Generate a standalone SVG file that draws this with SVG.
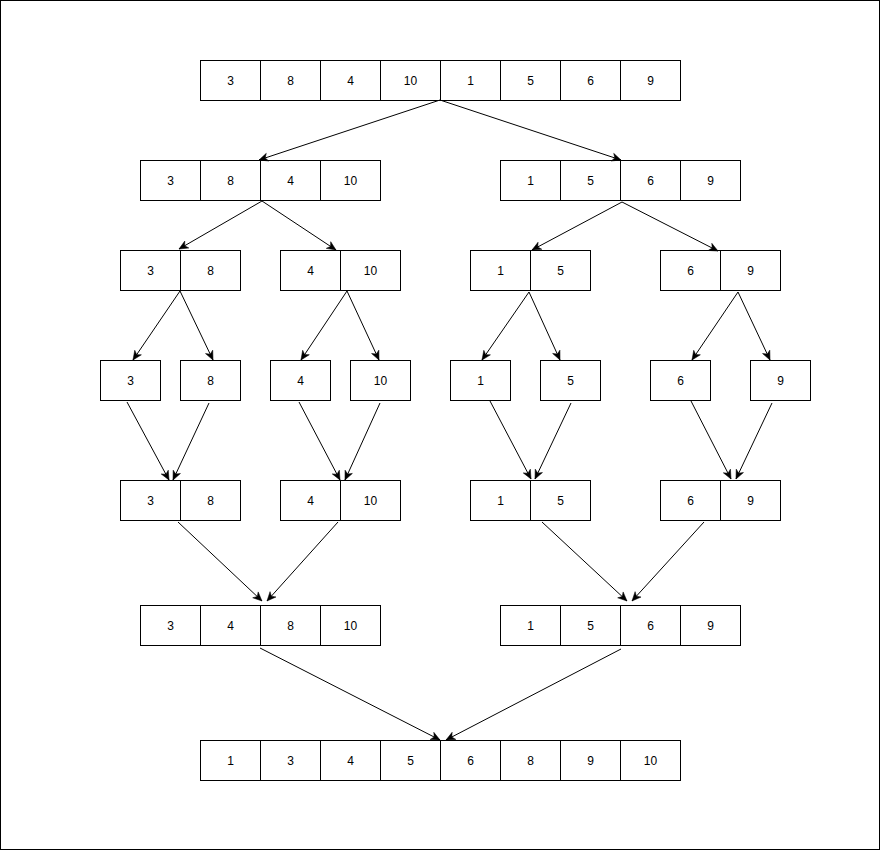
<svg xmlns="http://www.w3.org/2000/svg" width="881" height="851" viewBox="0 0 881 851">
<style>
.c{fill:#fff;stroke:#000;stroke-width:1}
.t{font-family:"Liberation Sans",Arial,sans-serif;font-size:12px;fill:#000;text-anchor:middle}
.e{fill:none;stroke:#000;stroke-width:1;marker-end:url(#ah)}
</style>
<defs>
<marker id="ah" markerUnits="userSpaceOnUse" markerWidth="12" markerHeight="12" viewBox="-10 -6 12 12" refX="0" refY="0" orient="auto">
<path d="M-9,-4 L0,0 L-9,4 L-6.5,0 Z" fill="#000" stroke="#000" stroke-width="0.5"/>
</marker>
</defs>
<rect x="0.5" y="0.5" width="879" height="849" fill="#fff" stroke="#000"/>

<g id="arr0">
<rect class="c" x="200.5" y="60.5" width="60" height="40"/><text class="t" x="230.5" y="84.5">3</text>
<rect class="c" x="260.5" y="60.5" width="60" height="40"/><text class="t" x="290.5" y="84.5">8</text>
<rect class="c" x="320.5" y="60.5" width="60" height="40"/><text class="t" x="350.5" y="84.5">4</text>
<rect class="c" x="380.5" y="60.5" width="60" height="40"/><text class="t" x="410.5" y="84.5">10</text>
<rect class="c" x="440.5" y="60.5" width="60" height="40"/><text class="t" x="470.5" y="84.5">1</text>
<rect class="c" x="500.5" y="60.5" width="60" height="40"/><text class="t" x="530.5" y="84.5">5</text>
<rect class="c" x="560.5" y="60.5" width="60" height="40"/><text class="t" x="590.5" y="84.5">6</text>
<rect class="c" x="620.5" y="60.5" width="60" height="40"/><text class="t" x="650.5" y="84.5">9</text>
</g>

<g id="arr1L">
<rect class="c" x="140.5" y="160.5" width="60" height="40"/><text class="t" x="170.5" y="184.5">3</text>
<rect class="c" x="200.5" y="160.5" width="60" height="40"/><text class="t" x="230.5" y="184.5">8</text>
<rect class="c" x="260.5" y="160.5" width="60" height="40"/><text class="t" x="290.5" y="184.5">4</text>
<rect class="c" x="320.5" y="160.5" width="60" height="40"/><text class="t" x="350.5" y="184.5">10</text>
</g>
<g id="arr1R">
<rect class="c" x="500.5" y="160.5" width="60" height="40"/><text class="t" x="530.5" y="184.5">1</text>
<rect class="c" x="560.5" y="160.5" width="60" height="40"/><text class="t" x="590.5" y="184.5">5</text>
<rect class="c" x="620.5" y="160.5" width="60" height="40"/><text class="t" x="650.5" y="184.5">6</text>
<rect class="c" x="680.5" y="160.5" width="60" height="40"/><text class="t" x="710.5" y="184.5">9</text>
</g>

<g id="arr2a">
<rect class="c" x="120.5" y="250.5" width="60" height="40"/><text class="t" x="150.5" y="274.5">3</text>
<rect class="c" x="180.5" y="250.5" width="60" height="40"/><text class="t" x="210.5" y="274.5">8</text>
</g>
<g id="arr2b">
<rect class="c" x="280.5" y="250.5" width="60" height="40"/><text class="t" x="310.5" y="274.5">4</text>
<rect class="c" x="340.5" y="250.5" width="60" height="40"/><text class="t" x="370.5" y="274.5">10</text>
</g>
<g id="arr2c">
<rect class="c" x="470.5" y="250.5" width="60" height="40"/><text class="t" x="500.5" y="274.5">1</text>
<rect class="c" x="530.5" y="250.5" width="60" height="40"/><text class="t" x="560.5" y="274.5">5</text>
</g>
<g id="arr2d">
<rect class="c" x="660.5" y="250.5" width="60" height="40"/><text class="t" x="690.5" y="274.5">6</text>
<rect class="c" x="720.5" y="250.5" width="60" height="40"/><text class="t" x="750.5" y="274.5">9</text>
</g>

<g id="leaf3"><rect class="c" x="100.5" y="360.5" width="60" height="40"/><text class="t" x="130.5" y="384.5">3</text></g>
<g id="leaf8"><rect class="c" x="180.5" y="360.5" width="60" height="40"/><text class="t" x="210.5" y="384.5">8</text></g>
<g id="leaf4"><rect class="c" x="270.5" y="360.5" width="60" height="40"/><text class="t" x="300.5" y="384.5">4</text></g>
<g id="leaf10"><rect class="c" x="350.5" y="360.5" width="60" height="40"/><text class="t" x="380.5" y="384.5">10</text></g>
<g id="leaf1"><rect class="c" x="450.5" y="360.5" width="60" height="40"/><text class="t" x="480.5" y="384.5">1</text></g>
<g id="leaf5"><rect class="c" x="540.5" y="360.5" width="60" height="40"/><text class="t" x="570.5" y="384.5">5</text></g>
<g id="leaf6"><rect class="c" x="650.5" y="360.5" width="60" height="40"/><text class="t" x="680.5" y="384.5">6</text></g>
<g id="leaf9"><rect class="c" x="750.5" y="360.5" width="60" height="40"/><text class="t" x="780.5" y="384.5">9</text></g>

<g id="arr4a">
<rect class="c" x="120.5" y="480.5" width="60" height="40"/><text class="t" x="150.5" y="504.5">3</text>
<rect class="c" x="180.5" y="480.5" width="60" height="40"/><text class="t" x="210.5" y="504.5">8</text>
</g>
<g id="arr4b">
<rect class="c" x="280.5" y="480.5" width="60" height="40"/><text class="t" x="310.5" y="504.5">4</text>
<rect class="c" x="340.5" y="480.5" width="60" height="40"/><text class="t" x="370.5" y="504.5">10</text>
</g>
<g id="arr4c">
<rect class="c" x="470.5" y="480.5" width="60" height="40"/><text class="t" x="500.5" y="504.5">1</text>
<rect class="c" x="530.5" y="480.5" width="60" height="40"/><text class="t" x="560.5" y="504.5">5</text>
</g>
<g id="arr4d">
<rect class="c" x="660.5" y="480.5" width="60" height="40"/><text class="t" x="690.5" y="504.5">6</text>
<rect class="c" x="720.5" y="480.5" width="60" height="40"/><text class="t" x="750.5" y="504.5">9</text>
</g>

<g id="arr5L">
<rect class="c" x="140.5" y="605.5" width="60" height="40"/><text class="t" x="170.5" y="629.5">3</text>
<rect class="c" x="200.5" y="605.5" width="60" height="40"/><text class="t" x="230.5" y="629.5">4</text>
<rect class="c" x="260.5" y="605.5" width="60" height="40"/><text class="t" x="290.5" y="629.5">8</text>
<rect class="c" x="320.5" y="605.5" width="60" height="40"/><text class="t" x="350.5" y="629.5">10</text>
</g>
<g id="arr5R">
<rect class="c" x="500.5" y="605.5" width="60" height="40"/><text class="t" x="530.5" y="629.5">1</text>
<rect class="c" x="560.5" y="605.5" width="60" height="40"/><text class="t" x="590.5" y="629.5">5</text>
<rect class="c" x="620.5" y="605.5" width="60" height="40"/><text class="t" x="650.5" y="629.5">6</text>
<rect class="c" x="680.5" y="605.5" width="60" height="40"/><text class="t" x="710.5" y="629.5">9</text>
</g>

<g id="arr6">
<rect class="c" x="200.5" y="740.5" width="60" height="40"/><text class="t" x="230.5" y="764.5">1</text>
<rect class="c" x="260.5" y="740.5" width="60" height="40"/><text class="t" x="290.5" y="764.5">3</text>
<rect class="c" x="320.5" y="740.5" width="60" height="40"/><text class="t" x="350.5" y="764.5">4</text>
<rect class="c" x="380.5" y="740.5" width="60" height="40"/><text class="t" x="410.5" y="764.5">5</text>
<rect class="c" x="440.5" y="740.5" width="60" height="40"/><text class="t" x="470.5" y="764.5">6</text>
<rect class="c" x="500.5" y="740.5" width="60" height="40"/><text class="t" x="530.5" y="764.5">8</text>
<rect class="c" x="560.5" y="740.5" width="60" height="40"/><text class="t" x="590.5" y="764.5">9</text>
<rect class="c" x="620.5" y="740.5" width="60" height="40"/><text class="t" x="650.5" y="764.5">10</text>
</g>

<g id="connectors">
<path class="e" d="M440,100 L259,160"/>
<path class="e" d="M440,100 L621,160"/>
<path class="e" d="M262,201 L179,249"/>
<path class="e" d="M262,201 L336,250"/>
<path class="e" d="M622,202 L532,250"/>
<path class="e" d="M622,202 L718,251"/>
<path class="e" d="M180,291 L133,360"/>
<path class="e" d="M180,291 L213,360"/>
<path class="e" d="M347,291 L301,360"/>
<path class="e" d="M347,291 L379,360"/>
<path class="e" d="M529,292 L482,360"/>
<path class="e" d="M529,292 L560,360"/>
<path class="e" d="M738,292 L692,360"/>
<path class="e" d="M738,292 L770,360"/>
<path class="e" d="M127,402 L169,480"/>
<path class="e" d="M209,403 L173,480"/>
<path class="e" d="M299,402 L340,480"/>
<path class="e" d="M380,403 L345,480"/>
<path class="e" d="M490,401 L531,479"/>
<path class="e" d="M571,403 L535,479"/>
<path class="e" d="M691,401 L731,479"/>
<path class="e" d="M772,403 L736,479"/>
<path class="e" d="M178,522 L262,601"/>
<path class="e" d="M338,522 L267,601"/>
<path class="e" d="M542,522 L627,601"/>
<path class="e" d="M704,522 L632,601"/>
<path class="e" d="M260,648 L440,740"/>
<path class="e" d="M621,649 L446,740"/>
</g>
</svg>
